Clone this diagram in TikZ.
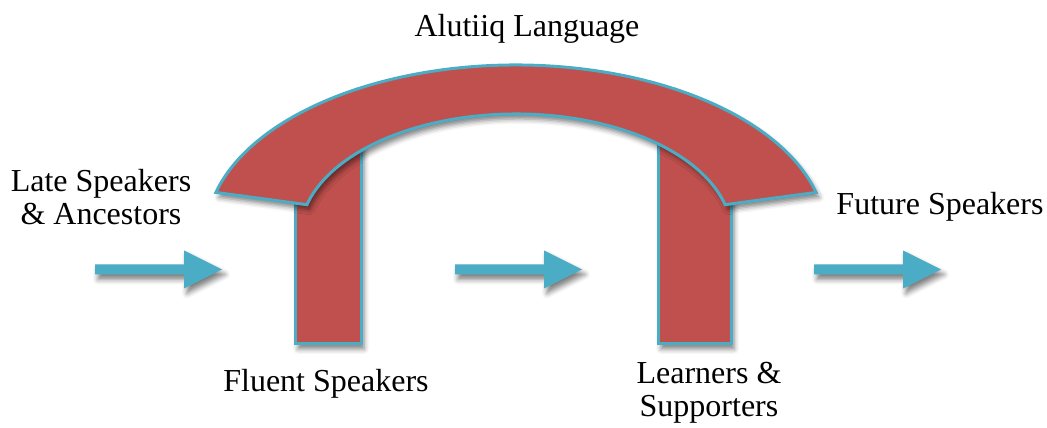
\documentclass[tikz,border=0pt]{standalone}
\usepackage{fontspec}
\setmainfont{Liberation Serif}
\usetikzlibrary{shadows.blur}
\definecolor{brick}{HTML}{C0504D}
\definecolor{edgeblue}{HTML}{4BACC6}

\begin{document}
\begin{tikzpicture}[x=1pt,y=1pt,
  soft/.style={blur shadow={shadow xshift=3pt,shadow yshift=-5pt,
      shadow blur radius=5pt,shadow opacity=50}},
  block/.style={fill=brick,draw=edgeblue,line width=3pt,soft},
  flow/.style={fill=edgeblue,soft},
  label/.style={font=\fontsize{32}{33}\selectfont,anchor=base,align=center},
  pics/flowarrow/.style={code={
      \fill[flow] (0,-5) -- (89,-5) -- (89,-19) -- (127,0) -- (89,19)
        -- (89,5) -- (0,5) -- cycle;}}]
\useasboundingbox (0,0) rectangle (1047,428);

% the two pillars, drawn first so the arch covers their tops
\draw[block] (295,84) rectangle (361,303);
\draw[block] (658,84) rectangle (731,303);

% the arch: a block of two concentric elliptic arcs
\coordinate (archc) at (516,193);
\draw[block] ([shift={(165.5:310 and 170)}]archc)
  arc[start angle=165.5,end angle=14.5,x radius=310,y radius=170]
  -- ([shift={(14.5:216 and 121)}]archc)
  arc[start angle=14.5,end angle=165.5,x radius=216,y radius=121]
  -- cycle;

% flow arrows
\pic at (95,158.5) {flowarrow};
\pic at (455,158.5) {flowarrow};
\pic at (814,158.5) {flowarrow};

% labels (base anchor of a two-line label sits on its last line)
\node[label] (lang) at (527,391) {Alutiiq Language};
\node[label] (late) at (101,203) {Late Speakers\\\& Ancestors};
\node[label] (fluent) at (326,36) {Fluent Speakers};
\node[label] (learn) at (709,11) {Learners \&\\Supporters};
\node[label] (future) at (940,213) {Future Speakers};
\end{tikzpicture}
\end{document}
